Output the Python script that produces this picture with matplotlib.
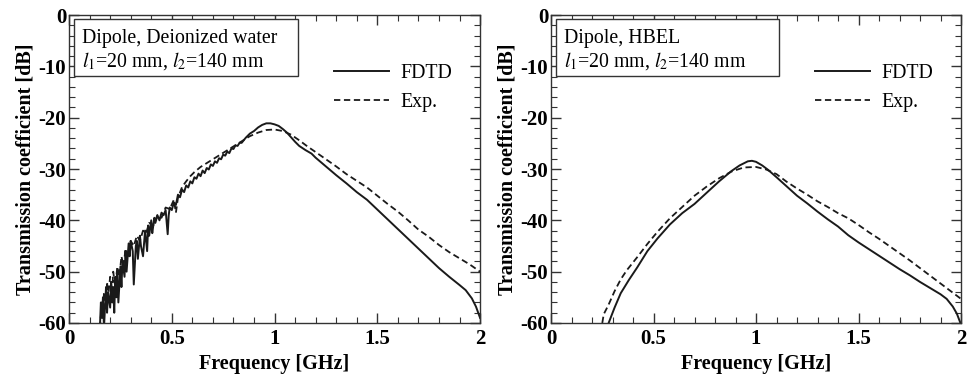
import numpy as np
import matplotlib
matplotlib.use("Agg")
import matplotlib.pyplot as plt
from matplotlib.patches import Rectangle
from matplotlib.ticker import MultipleLocator, FixedFormatter, FixedLocator

plt.rcParams['font.family'] = ['Liberation Serif', 'DejaVu Serif']
plt.rcParams['mathtext.fontset'] = 'stix'

# left panel: deionized water
fdtd_w_f = [0.15, 0.155, 0.16, 0.165, 0.17, 0.175, 0.18, 0.185, 0.19, 0.20, 0.205, 0.21, 0.215,
            0.22, 0.225, 0.23, 0.235, 0.24, 0.25, 0.255, 0.26, 0.27, 0.275, 0.28, 0.29, 0.295,
            0.30, 0.31, 0.315, 0.325, 0.33, 0.335, 0.345, 0.35, 0.36, 0.365, 0.37, 0.38, 0.385,
            0.39, 0.40, 0.405, 0.41, 0.415, 0.42, 0.43, 0.44, 0.45, 0.46, 0.47, 0.48, 0.485,
            0.49, 0.50, 0.51, 0.52, 0.53, 0.54, 0.55, 0.56, 0.57, 0.58, 0.59, 0.60, 0.61, 0.62,
            0.63, 0.64, 0.65, 0.66, 0.67, 0.68, 0.69, 0.70, 0.71, 0.72, 0.73, 0.74, 0.75, 0.76,
            0.77, 0.78, 0.79, 0.80, 0.81, 0.82, 0.83, 0.84, 0.86, 0.88, 0.90,
            0.92, 0.94, 0.96, 0.98, 1.00, 1.02, 1.04, 1.06, 1.08, 1.10, 1.12, 1.15, 1.18, 1.20,
            1.25, 1.30, 1.35, 1.40, 1.45, 1.50, 1.55, 1.60, 1.65, 1.70, 1.75, 1.80, 1.85, 1.90,
            1.93, 1.96, 1.98, 2.00]
fdtd_w_db = [-61, -56, -59, -55, -61, -57, -53, -58, -54, -57, -52, -56, -53,
             -58, -51, -55, -50, -56, -49, -53, -48, -51, -46, -50, -44.5, -47,
             -44, -46, -52.5, -45, -44, -47.5, -43, -45, -47, -44.5, -42, -46, -41,
             -43, -40, -42.5, -41, -39.5, -40.5, -39, -40, -38.5, -39, -38, -42.7, -39,
             -37.5, -38, -36.5, -37, -35, -35.5, -34, -34.5, -33.2, -33.6, -32.4, -32.8, -31.6, -31.9,
             -30.9, -31.4, -30.3, -30.8, -29.8, -30.1, -29.1, -29.4, -28.5, -28.8, -27.9, -28.1, -27.2, -27.4,
             -26.6, -26.9, -26.0, -26.1, -25.4, -25.5, -24.9, -24.9, -23.9, -23.1, -22.6,
             -21.9, -21.4, -21.1, -21.1, -21.3, -21.6, -22.2, -22.9, -23.8, -24.7, -25.5, -26.3, -27.0, -27.8,
             -29.5, -31.2, -32.8, -34.5, -36.0, -37.9, -39.8, -41.7, -43.6, -45.5, -47.4, -49.3, -51.0, -52.6,
             -53.6, -55.2, -56.8, -59.0]

exp_w_f = [0.15, 0.16, 0.165, 0.17, 0.18, 0.185, 0.19, 0.20, 0.21, 0.215, 0.225, 0.235, 0.245,
           0.255, 0.265, 0.275, 0.285, 0.30, 0.315, 0.33, 0.345, 0.36, 0.375, 0.39, 0.41, 0.43,
           0.45, 0.47, 0.49, 0.51, 0.52, 0.53, 0.55, 0.57, 0.59, 0.61, 0.64, 0.68, 0.72, 0.76,
           0.80, 0.84, 0.88, 0.92, 0.96, 1.00, 1.04, 1.08, 1.12, 1.16, 1.20, 1.25, 1.30, 1.35,
           1.40, 1.45, 1.50, 1.55, 1.60, 1.65, 1.70, 1.75, 1.80, 1.85, 1.90, 1.95, 2.00]
exp_w_db = [-61, -56, -59, -54, -57, -52, -55, -51, -54, -50, -53, -49, -51,
            -47, -49, -45.5, -47, -44, -45, -43, -44, -42, -42.5, -40.5, -41, -39,
            -39.5, -37.5, -37.8, -36, -38.5, -35.6, -33.5, -32.4, -31.4, -30.6, -29.6, -28.6, -27.6, -26.6,
            -25.6, -24.6, -23.6, -22.9, -22.4, -22.3, -22.6, -23.3, -24.4, -25.6, -26.7, -28.1, -29.5, -31.0,
            -32.3, -33.6, -35.2, -36.8, -38.3, -40.0, -41.8, -43.2, -44.8, -46.2, -47.4, -48.6, -50.0]

# right panel: HBEL
fdtd_h_f = [0.27, 0.281, 0.31, 0.34, 0.38, 0.42, 0.47, 0.52, 0.58, 0.64, 0.70, 0.76, 0.82, 0.88,
            0.92, 0.96, 0.98, 1.00, 1.03, 1.06, 1.10, 1.15, 1.20, 1.25, 1.30, 1.35, 1.40, 1.45,
            1.50, 1.55, 1.60, 1.65, 1.70, 1.75, 1.80, 1.85, 1.90, 1.93, 1.96, 1.98, 2.00]
fdtd_h_db = [-61, -60, -57, -54.2, -51.6, -49.2, -46, -43.5, -40.8, -38.6, -36.8, -34.6, -32.4, -30.4,
             -29.3, -28.5, -28.4, -28.6, -29.3, -30.2, -31.6, -33.4, -35.2, -36.7, -38.3, -39.8, -41.2, -42.9,
             -44.3, -45.6, -46.9, -48.2, -49.5, -50.7, -52.0, -53.2, -54.4, -55.3, -56.8, -58.2, -60.3]

exp_h_f = [0.25, 0.257, 0.28, 0.31, 0.34, 0.37, 0.42, 0.47, 0.52, 0.58, 0.64, 0.70, 0.76, 0.82,
           0.88, 0.94, 1.00, 1.05, 1.10, 1.15, 1.20, 1.25, 1.30, 1.35, 1.40, 1.45, 1.50, 1.55,
           1.60, 1.65, 1.70, 1.75, 1.80, 1.85, 1.90, 1.95, 2.00]
exp_h_db = [-60, -58.3, -56.5, -53.8, -51.5, -49.7, -47.2, -44.6, -42.2, -39.6, -37.4, -35.2, -33.4, -31.8,
            -30.5, -29.7, -29.6, -30.1, -31.0, -32.5, -33.8, -35.0, -36.3, -37.4, -38.6, -39.6, -40.9, -42.3,
            -43.6, -45.0, -46.4, -47.8, -49.3, -50.8, -52.3, -53.8, -55.3]

xticks = [0, 0.5, 1, 1.5, 2]
xtick_labels = ['0', '0.5', '1', '1.5', '2']
yticks = [0, -10, -20, -30, -40, -50, -60]
ytick_labels = ['0', '-10', '-20', '-30', '-40', '-50', '-60']

titles = ['Dipole, Deionized water', 'Dipole, HBEL']

fig = plt.figure(figsize=(9.71, 3.76), dpi=100)
ax1 = fig.add_axes([0.0711, 0.141, 0.4233, 0.819])
ax2 = fig.add_axes([0.5675, 0.141, 0.4222, 0.819])

panels = [(ax1, fdtd_w_f, fdtd_w_db, exp_w_f, exp_w_db, titles[0]),
          (ax2, fdtd_h_f, fdtd_h_db, exp_h_f, exp_h_db, titles[1])]

lc = '#1a1a1a'
for ax, ff, fd, ef, ed, title in panels:
    ax.plot(ff, fd, color=lc, lw=1.4, label='FDTD')
    ax.plot(ef, ed, color=lc, lw=1.3, ls=(0, (3.5, 2)), label='Exp.')
    ax.set_xlim(0, 2)
    ax.set_ylim(-60, 0)
    ax.xaxis.set_major_locator(FixedLocator(xticks))
    ax.xaxis.set_major_formatter(FixedFormatter(xtick_labels))
    ax.yaxis.set_major_locator(FixedLocator(yticks))
    ax.yaxis.set_major_formatter(FixedFormatter(ytick_labels))
    ax.xaxis.set_minor_locator(MultipleLocator(0.1))
    ax.yaxis.set_minor_locator(MultipleLocator(2))
    ax.tick_params(which='both', direction='in', top=True, right=True, color='#333333')
    ax.tick_params(which='major', length=7, width=1)
    ax.tick_params(which='minor', length=4, width=0.8)
    ax.tick_params(axis='x', pad=4)
    ax.tick_params(axis='y', pad=2)
    for lab in ax.get_xticklabels() + ax.get_yticklabels():
        lab.set_fontweight('bold')
        lab.set_fontsize(15)
    for s in ax.spines.values():
        s.set_color('#333333')
        s.set_linewidth(1)
    ax.set_xlabel('Frequency [GHz]', fontsize=14.5, fontweight='bold', labelpad=4)
    ax.set_ylabel('Transmission coefficient [dB]', fontsize=14.5, fontweight='bold', labelpad=2)
    ax.add_patch(Rectangle((0.013, 0.802), 0.544, 0.185, transform=ax.transAxes,
                           fc='white', ec='#333333', lw=1, zorder=3))
    ax.text(0.032, 0.909, title, transform=ax.transAxes, fontsize=14.3,
            va='baseline', ha='left', zorder=4)
    ax.text(0.032, 0.834, r'$l_1$=20 mm, $l_2$=140 mm', transform=ax.transAxes,
            fontsize=14.3, va='baseline', ha='left', zorder=4)
    ax.legend(loc='upper right', bbox_to_anchor=(0.975, 0.90), frameon=False, fontsize=14.3,
              handlelength=2.8, handletextpad=0.55, labelspacing=0.5)

fig.savefig('out.png', dpi=100)
